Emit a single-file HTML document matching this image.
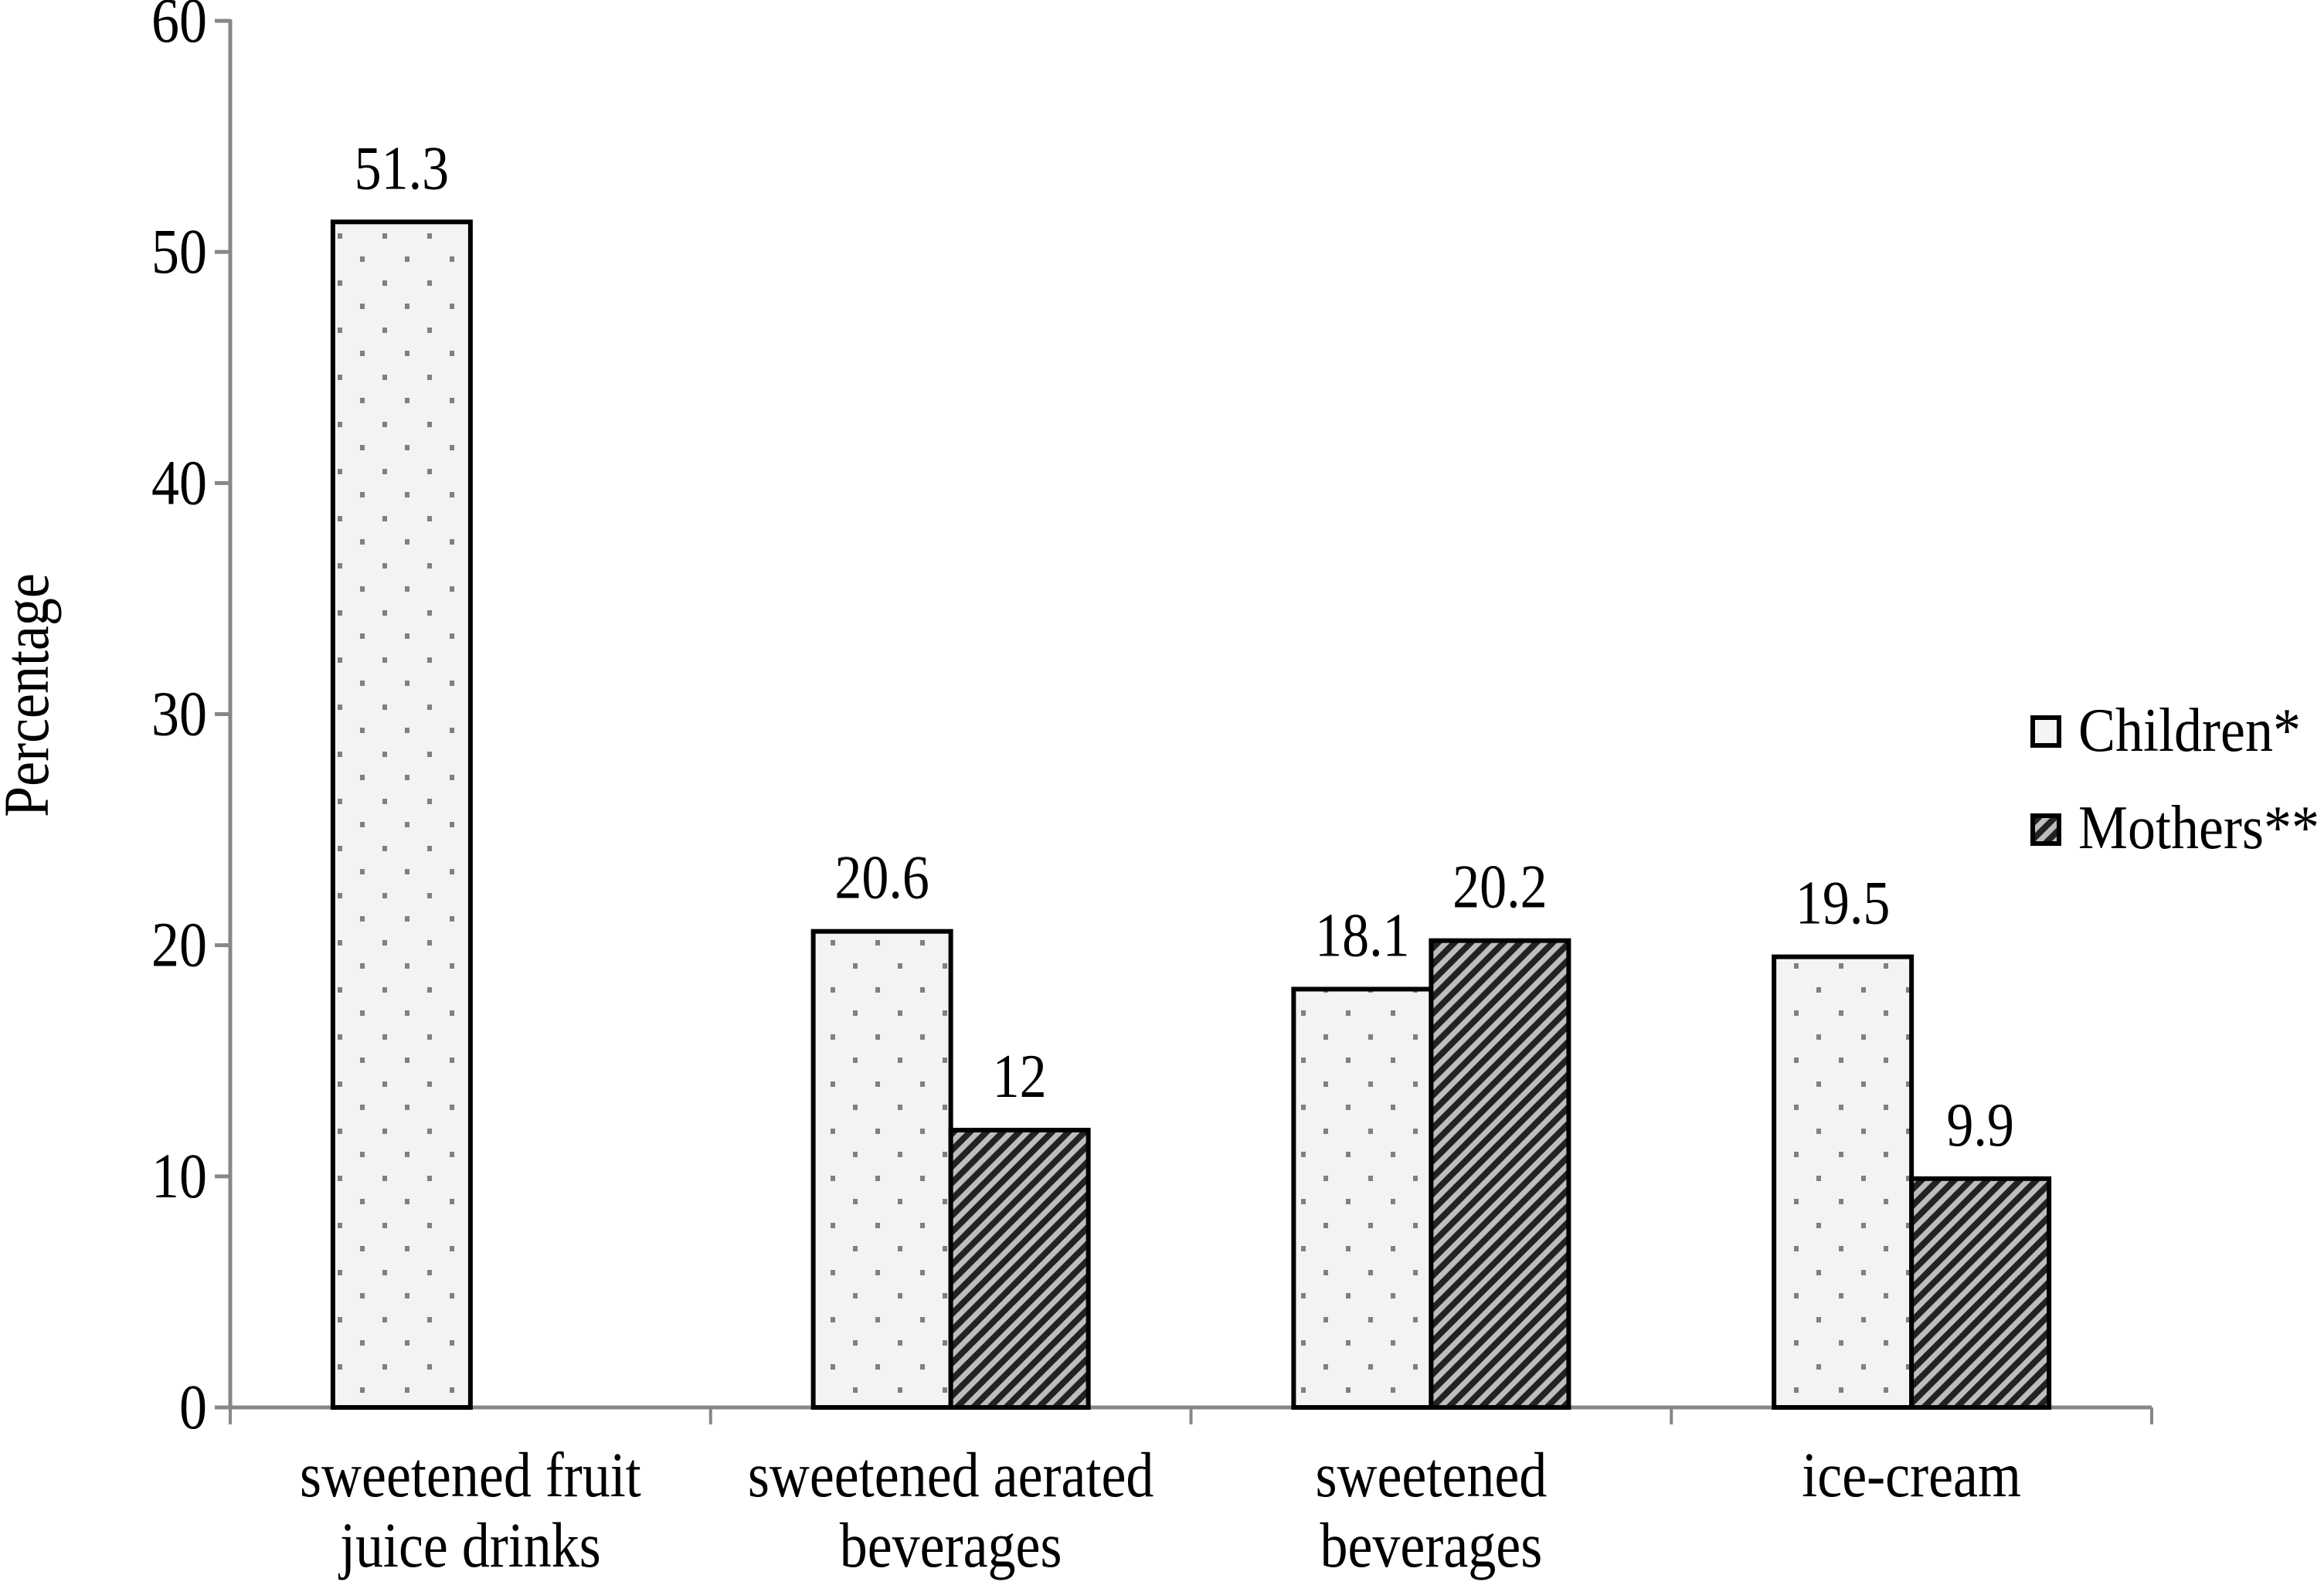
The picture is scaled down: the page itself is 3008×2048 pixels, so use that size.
<!DOCTYPE html>
<html><head><meta charset="utf-8"><style>
html,body{margin:0;padding:0;background:#fff;}
svg{display:block;}
text{font-family:"Liberation Serif",serif;fill:#000;}
</style></head><body>
<svg id="chart" width="3008" height="2048" viewBox="0 0 3008 2048" xmlns="http://www.w3.org/2000/svg">
<defs>
<pattern id="dots" patternUnits="userSpaceOnUse" width="58" height="61" x="440" y="0">
<rect width="58" height="61" fill="#f3f3f3"/>
<rect x="-3" y="-3" width="6" height="7" fill="#808080"/><rect x="55" y="-3" width="6" height="7" fill="#808080"/>
<rect x="-3" y="58" width="6" height="7" fill="#808080"/><rect x="55" y="58" width="6" height="7" fill="#808080"/>
<rect x="26" y="27" width="6" height="7" fill="#808080"/>
</pattern>
<pattern id="stripes" patternUnits="userSpaceOnUse" width="15" height="15" patternTransform="rotate(45)">
<rect width="15" height="15" fill="#bdbdbd"/>
<rect x="0" y="0" width="8" height="15" fill="#222"/>
</pattern>
</defs>
<g id="axes"></g>
<g id="bars"></g>
<g id="labels"></g>
<text x="0" y="0" font-size="72" text-anchor="middle" transform="translate(62,900) rotate(-90) scale(1,1.15)">Percentage</text>
<g>
<rect x="2631" y="929" width="34" height="36" fill="#f4f4f4" stroke="#000" stroke-width="6"/>
<text x="0" y="0" font-size="72" transform="translate(2690,972) scale(1,1.12)">Children*</text>
<rect x="2631" y="1056" width="34" height="36" fill="url(#stripes)" stroke="#000" stroke-width="6"/>
<text x="0" y="0" font-size="72" transform="translate(2690,1098) scale(1,1.12)">Mothers**</text>
</g>
</svg>
<script>
const categories = [["sweetened fruit","juice drinks"],["sweetened aerated","beverages"],["sweetened","beverages"],["ice-cream"]];
const childrenValues = [51.3, 20.6, 18.1, 19.5];
const mothersValues = [null, 12, 20.2, 9.9];
const childrenLabels = ["51.3","20.6","18.1","19.5"];
const mothersLabels = [null,"12","20.2","9.9"];
const yTicks = [0,10,20,30,40,50,60];

const NS = "http://www.w3.org/2000/svg";
const X0 = 298, X1 = 2785, Y0 = 1822, Y60 = 27;
const SY = 1.15;
const catW = (X1 - X0) / categories.length;
const barW = 178;
function y(v){ return Y0 - (Y0 - Y60) * v / 60; }
function catX(i){ return X0 + catW * (i + 0.5); }
function mk(tag, attrs, parent){ const e = document.createElementNS(NS, tag); for (const k in attrs) e.setAttribute(k, attrs[k]); parent.appendChild(e); return e; }
function txt(x, yy, size, anchor, parent){
  return mk('text', {x:0, y:0, 'font-size':size, 'text-anchor':anchor, transform:'translate(' + x + ',' + yy + ') scale(1,' + SY + ')'}, parent);
}

const axes = document.getElementById('axes');
const bars = document.getElementById('bars');
const labels = document.getElementById('labels');

const yl = mk('line', {x1:X0, y1:Y60-2, x2:X0, y2:Y0+2, stroke:'#878787', 'stroke-width':5}, axes);


const xl = mk('line', {x1:X0-20, y1:Y0, x2:X1, y2:Y0, stroke:'#878787', 'stroke-width':5}, axes);



yTicks.forEach(t => {
  const tk = mk('line', {x1:X0-20, y1:y(t), x2:X0, y2:y(t), stroke:'#878787', 'stroke-width':5}, axes);
  
  
  const tl = txt(X0-30, y(t)+27, 72, 'end', axes);
  tl.textContent = t;
  
  
});

for (let i = 0; i <= categories.length; i++) {
  const xx = X0 + catW * i;
  const tk = mk('line', {x1:xx, y1:Y0, x2:xx, y2:Y0+22, stroke:'#878787', 'stroke-width':4}, axes);
  
  
}

categories.forEach((lines, i) => {
  lines.forEach((ln, j) => {
    const t = txt(catX(i), 1937 + j*91, 72, 'middle', labels);
    t.textContent = ln;
    
    
  });
});

function drawBar(v, lbl, x, fill, name){
  if (v === null) return;
  const r = mk('rect', {x:x, y:y(v), width:barW, height:Y0 - y(v), fill:fill, stroke:'#000', 'stroke-width':6}, bars);
  
  
  const t = txt(x + barW/2, y(v) - 43, 70, 'middle', labels);
  t.textContent = lbl;
  
  
}

categories.forEach((c, i) => {
  const cx = catX(i);
  drawBar(childrenValues[i], childrenLabels[i], cx - barW, 'url(#dots)', 'bar-children');
  drawBar(mothersValues[i], mothersLabels[i], cx, 'url(#stripes)', 'bar-mothers');
});
</script>
</body></html>
